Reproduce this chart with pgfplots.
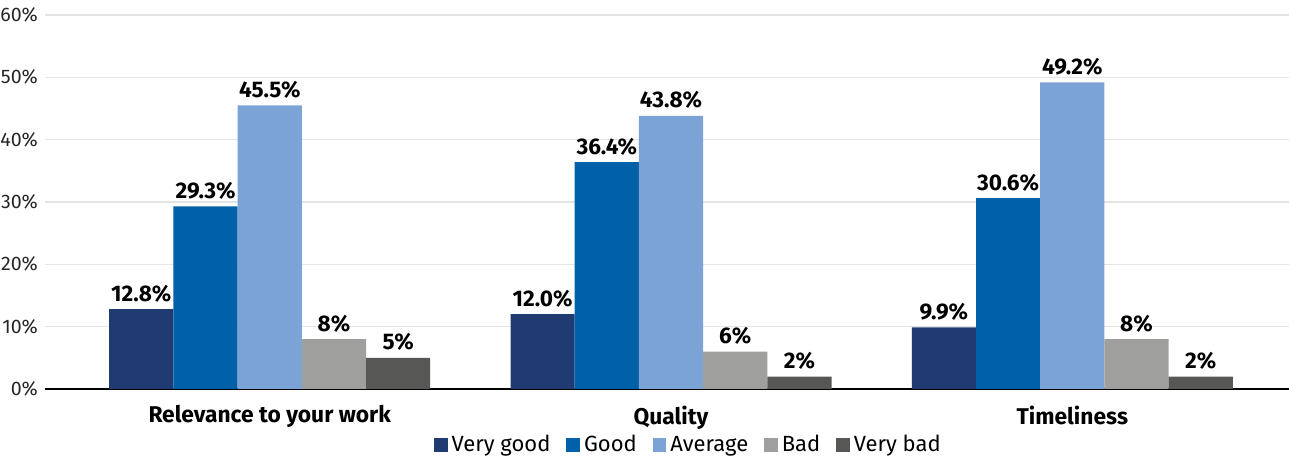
\documentclass[border=0pt]{standalone}
\usepackage{fontspec}
\setmainfont{Fira Sans}
\usepackage{pgfplots}
\pgfplotsset{compat=1.18}

\definecolor{verygood}{RGB}{32,58,114}
\definecolor{good}{RGB}{0,97,168}
\definecolor{average}{RGB}{123,163,213}
\definecolor{bad}{RGB}{159,159,158}
\definecolor{verybad}{RGB}{87,87,86}
\definecolor{gridgray}{RGB}{228,228,228}

\begin{document}
\begin{tikzpicture}
\begin{axis}[
  name=ax,
  scale only axis,
  width=622pt, height=187pt,
  ymin=0, ymax=60,
  xmin=-0.56, xmax=2.54,
  ytick={0,10,...,60},
  yticklabel={\pgfmathprintnumber{\tick}\%},
  /pgf/number format/assume math mode=true,
  yticklabel style={font=\fontsize{9.8}{11}\selectfont, text=black!85},
  ymajorgrids,
  grid style={draw=gridgray, line width=0.6pt},
  axis x line*=bottom,
  axis y line*=left,
  y axis line style={draw=none},
  x axis line style={draw=black, line width=0.9pt, -},
  tick style={draw=none},
  xtick={0,1,2},
  xticklabels={Relevance to your work, Quality, Timeliness},
  xticklabel style={font=\fontsize{11.4}{13}\selectfont\bfseries, text=black, yshift=-0.5pt},
  ybar=0pt,
  bar width=0.16,
  point meta=explicit symbolic,
  nodes near coords,
  every node near coord/.append style={font=\fontsize{11.3}{13}\selectfont\bfseries, text=black},
  legend columns=5,
  legend style={
    at={(0.518,0)}, anchor=center, yshift=-28pt,
    draw=none, fill=none,
    font=\fontsize{11}{13}\selectfont,
    /tikz/every even column/.append style={column sep=6pt},
  },
  legend image code/.code={\fill[#1] (0pt,-3.4pt) rectangle (6.8pt,3.4pt);},
]
\addplot[fill=verygood, draw=none] coordinates {(0,12.8) [12.8\%] (1,12.0) [12.0\%] (2,9.9) [9.9\%]};
\addplot[fill=good, draw=none] coordinates {(0,29.3) [29.3\%] (1,36.4) [36.4\%] (2,30.6) [30.6\%]};
\addplot[fill=average, draw=none] coordinates {(0,45.5) [45.5\%] (1,43.8) [43.8\%] (2,49.2) [49.2\%]};
\addplot[fill=bad, draw=none] coordinates {(0,8) [8\%] (1,6) [6\%] (2,8) [8\%]};
\addplot[fill=verybad, draw=none] coordinates {(0,5) [5\%] (1,2) [2\%] (2,2) [2\%]};
\legend{Very good, Good, Average, Bad, Very bad}
\end{axis}
\pgfresetboundingbox
\path ([xshift=-22.5pt,yshift=-33.5pt]ax.south west) rectangle ([yshift=7.5pt]ax.north east);
\end{tikzpicture}
\end{document}
